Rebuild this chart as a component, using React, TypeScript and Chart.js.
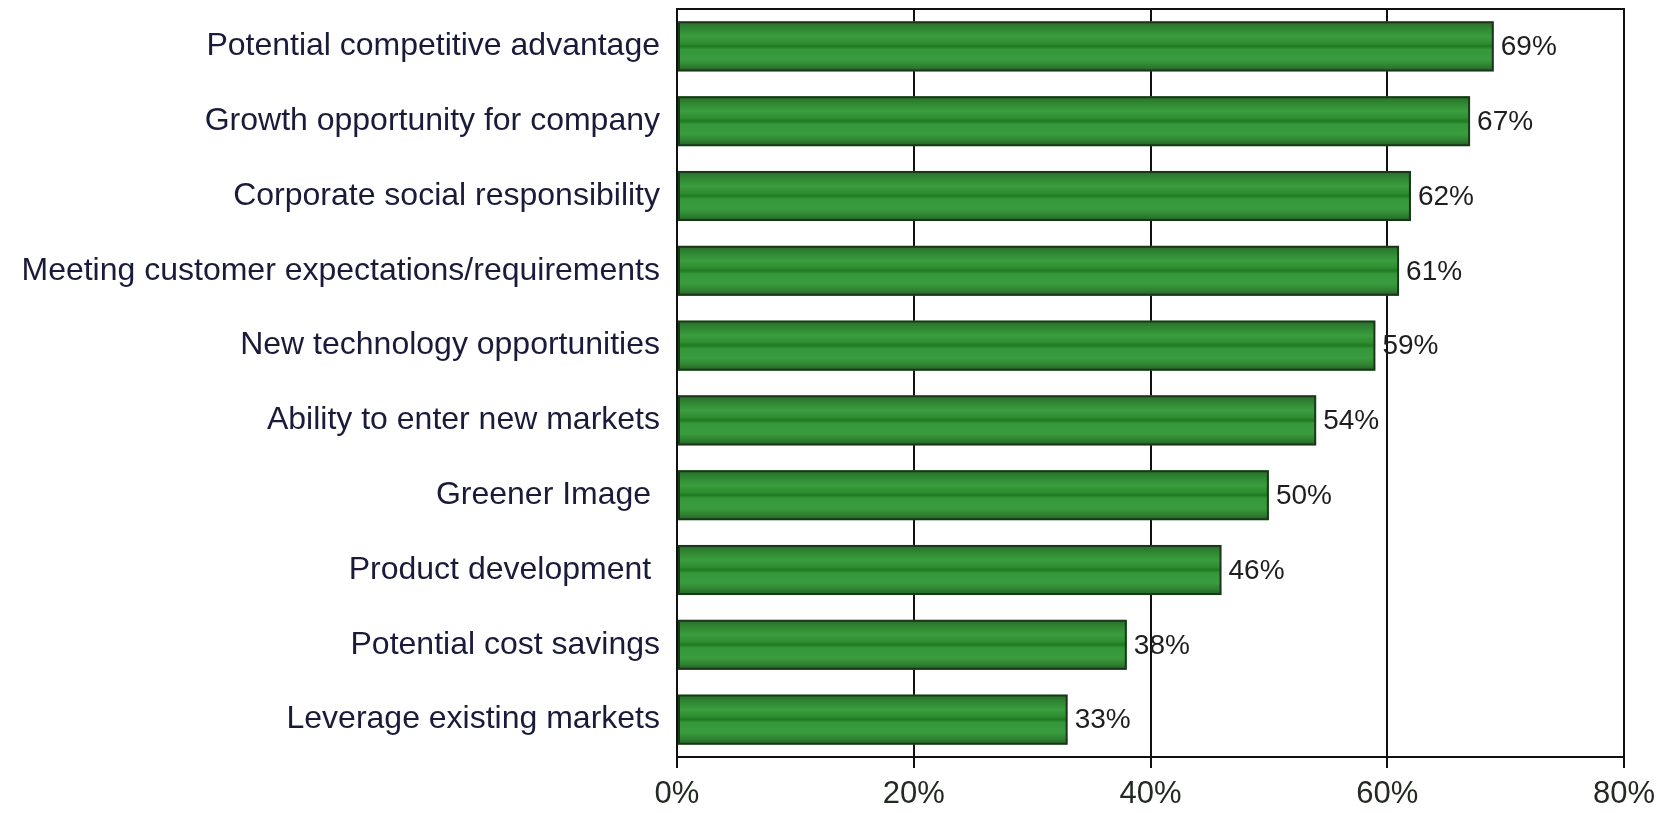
import React, { useEffect, useRef } from "react";
import { Chart, registerables } from "chart.js";

Chart.register(...registerables);

const categories = [
  "Potential competitive advantage",
  "Growth opportunity for company",
  "Corporate social responsibility",
  "Meeting customer expectations/requirements",
  "New technology opportunities",
  "Ability to enter new markets",
  "Greener Image ",
  "Product development ",
  "Potential cost savings",
  "Leverage existing markets",
];
const values = [69, 67, 62, 61, 59, 54, 50, 46, 38, 33];
const xTicks = [0, 20, 40, 60, 80];

const stripePlugin = {
  id: "stripes",
  beforeDatasetsDraw(chart: any) {
    const ctx = chart.ctx;
    const meta = chart.getDatasetMeta(0);
    meta.data.forEach((bar: any) => {
      const { x, y, base, height } = bar.getProps(["x", "y", "base", "height"], true);
      const top = y - height / 2;
      const g = ctx.createLinearGradient(0, top, 0, top + height);
      g.addColorStop(0, "#2a6a2a");
      g.addColorStop(0.14, "#2f8632");
      g.addColorStop(0.3, "#3a9e3e");
      g.addColorStop(0.44, "#2e8c31");
      g.addColorStop(0.5, "#1f7a22");
      g.addColorStop(0.56, "#34983a");
      g.addColorStop(0.76, "#3a9c3e");
      g.addColorStop(0.9, "#2e7e30");
      g.addColorStop(1, "#245c24");
      ctx.save();
      ctx.fillStyle = g;
      ctx.fillRect(Math.min(base, x), top, Math.abs(x - base), height);
      ctx.restore();
    });
  },
  afterDatasetsDraw(chart: any) {
    const ctx = chart.ctx;
    const meta = chart.getDatasetMeta(0);
    ctx.save();
    ctx.font = "28px 'Liberation Sans', Arial, sans-serif";
    ctx.fillStyle = "#1e1e1e";
    ctx.textAlign = "left";
    ctx.textBaseline = "middle";
    meta.data.forEach((bar: any, i: number) => {
      const { x, y } = bar.getProps(["x", "y"], true);
      ctx.fillText(values[i] + "%", x + 7, y + 1);
    });
    const a = chart.chartArea;
    ctx.strokeStyle = "#111111";
    ctx.lineWidth = 2;
    ctx.beginPath();
    ctx.moveTo(a.left, a.top);
    ctx.lineTo(a.right, a.top);
    ctx.lineTo(a.right, a.bottom);
    ctx.stroke();
    ctx.restore();
  },
};

export default function App() {
  const ref = useRef<HTMLCanvasElement | null>(null);
  useEffect(() => {
    document.body.style.margin = "0";
    const canvas = ref.current!;
    const chart = new Chart(canvas, {
      type: "bar",
      data: {
        labels: categories,
        datasets: [
          {
            data: values,
            backgroundColor: "rgba(0,0,0,0)",
            borderColor: "#1b361b",
            borderWidth: 2,
            borderSkipped: false,
            barPercentage: 0.67,
            categoryPercentage: 1,
          },
        ],
      },
      options: {
        indexAxis: "y",
        animation: false,
        responsive: false,
        maintainAspectRatio: false,
        layout: { padding: { top: 9, right: 41, left: 0, bottom: 0 } },
        plugins: {
          legend: { display: false },
          tooltip: { enabled: false },
        },
        scales: {
          x: {
            min: 0,
            max: 80,
            afterBuildTicks: (s: any) => {
              s.ticks = xTicks.map((v) => ({ value: v }));
            },
            afterFit: (s: any) => {
              s.height = 56;
              s.paddingLeft = 0;
              s.paddingRight = 0;
            },
            grid: {
              color: "#111111",
              lineWidth: 2,
              tickLength: 11,
              drawTicks: true,
            },
            border: { display: true, color: "#111111", width: 2 },
            ticks: {
              color: "#222a22",
              padding: 8,
              font: { family: "'Liberation Sans Narrow', 'Liberation Sans', Arial", size: 31 },
              callback: (v: any) => v + "%",
              maxRotation: 0,
            },
          },
          y: {
            afterFit: (s: any) => {
              s.width = 677;
              s.paddingTop = 0;
              s.paddingBottom = 0;
            },
            grid: { display: false, drawTicks: false },
            border: { display: true, color: "#111111", width: 2 },
            ticks: {
              color: "#1a1a3a",
              padding: 17,
              font: { family: "'Liberation Sans', Arial", size: 32 },
              autoSkip: false,
            },
          },
        },
      },
      plugins: [stripePlugin],
    });
    return () => chart.destroy();
  }, []);
  return (
    <div style={{ width: 1665, height: 813, background: "#ffffff" }}>
      <canvas ref={ref} width={1665} height={813} style={{ display: "block" }} />
    </div>
  );
}
